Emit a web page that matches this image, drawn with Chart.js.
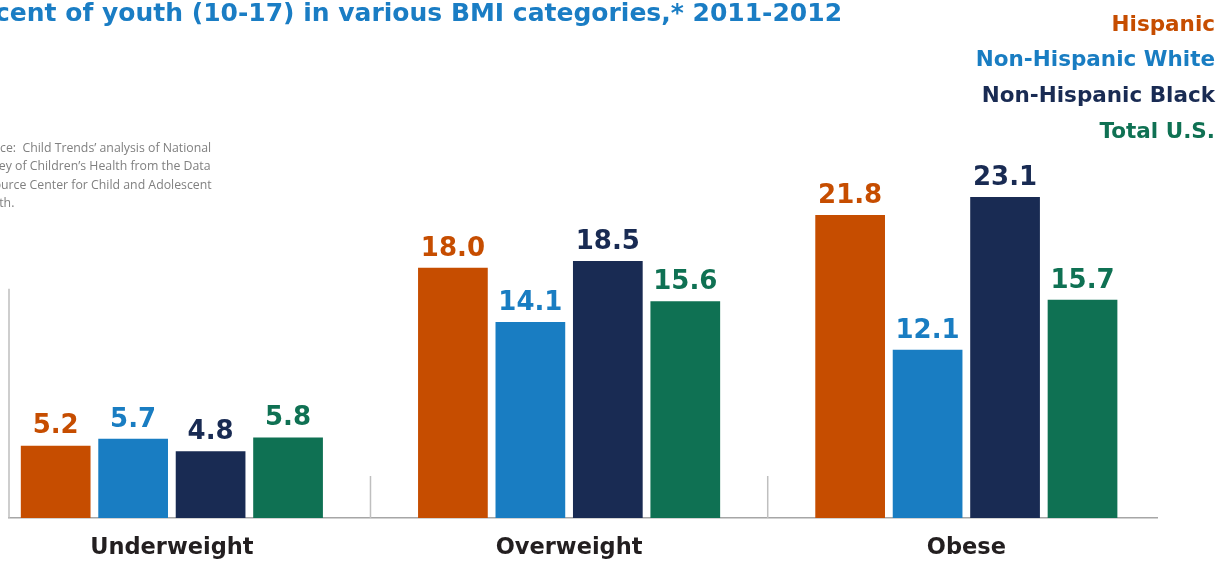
<!DOCTYPE html>
<html>
<head>
<meta charset="utf-8">
<script src="https://cdn.jsdelivr.net/npm/chart.js@4.4.0/dist/chart.umd.min.js"></script>
<style>
  html, body { margin: 0; padding: 0; background: #fff; }
</style>
</head>
<body>
<canvas id="bmi" width="1224" height="563"></canvas>
<script>
const categories = ['Underweight', 'Overweight', 'Obese'];
const seriesNames = ['Hispanic', 'Non-Hispanic White', 'Non-Hispanic Black', 'Total U.S.'];
const hispanic = [5.2, 18.0, 21.8];
const nonHispanicWhite = [5.7, 14.1, 12.1];
const nonHispanicBlack = [4.8, 18.5, 23.1];
const totalUS = [5.8, 15.6, 15.7];
const seriesColors = ['#c64d00', '#197dc2', '#192b53', '#0f7153'];

const titleText = 'Percent of youth (10-17) in various BMI categories,* 2011-2012';
const sourceLines = [
  'Source:  Child Trends\u2019 analysis of National',
  'Survey of Children\u2019s Health from the Data',
  'Resource Center for Child and Adolescent',
  'Health.'
];

const FONT = '"DejaVu Sans", sans-serif';
const series = [hispanic, nonHispanicWhite, nonHispanicBlack, totalUS];

// title, source note, legend, value labels and the axis decorations
const decorations = {
  id: 'decorations',
  afterDatasetsDraw(chart) {
    const ctx = chart.ctx;
    const x = chart.scales.x;
    const y = chart.scales.y;
    ctx.save();

    // title runs off the left edge
    ctx.font = 'bold 25px ' + FONT;
    ctx.fillStyle = '#1a7dc4';
    ctx.textAlign = 'left';
    ctx.textBaseline = 'middle';
    ctx.fillText(titleText, -ctx.measureText('Per').width - 5, 14);

    // source note, also clipped on the left
    ctx.font = '12.3px "Open Sans", sans-serif';
    ctx.fillStyle = '#808080';
    const indent = -ctx.measureText('Sour').width;
    sourceLines.forEach((line, i) => ctx.fillText(line, indent, 148 + i * 18.6));

    // legend as right-aligned coloured text
    ctx.font = 'bold 21.5px ' + FONT;
    ctx.textAlign = 'right';
    chart.data.datasets.forEach((ds, i) => {
      ctx.fillStyle = ds.backgroundColor;
      ctx.fillText(ds.label, 1215, 25 + i * 35.7);
    });

    // value labels above bars
    ctx.font = 'bold 26px ' + FONT;
    ctx.textAlign = 'center';
    ctx.textBaseline = 'bottom';
    chart.data.datasets.forEach((ds, i) => {
      chart.getDatasetMeta(i).data.forEach((bar, j) => {
        ctx.fillStyle = ds.backgroundColor;
        ctx.fillText(ds.data[j].y.toFixed(1), bar.x, bar.y - 6);
      });
    });

    // short y axis line and category separators
    ctx.strokeStyle = '#bfbfbf';
    ctx.lineWidth = 1.5;
    const base = y.getPixelForValue(0);
    ctx.beginPath();
    ctx.moveTo(chart.chartArea.left, base);
    ctx.lineTo(chart.chartArea.left, y.getPixelForValue(16.5));
    for (let i = 0; i < categories.length - 1; i++) {
      const px = x.getPixelForValue(i + 0.5);
      ctx.moveTo(px, base);
      ctx.lineTo(px, base - 42);
    }
    ctx.stroke();
    ctx.restore();
  }
};

new Chart(document.getElementById('bmi'), {
  type: 'bar',
  data: {
    datasets: seriesNames.map((name, i) => ({
      label: name,
      data: series[i].map((v, j) => ({ x: j, y: v })),
      backgroundColor: seriesColors[i],
      categoryPercentage: 0.78,
      barPercentage: 0.9
    }))
  },
  options: {
    responsive: false,
    animation: false,
    layout: { padding: { top: 190, left: 9, right: 67, bottom: 0 } },
    plugins: {
      legend: { display: false },
      title: { display: false },
      tooltip: { enabled: false }
    },
    scales: {
      x: {
        type: 'linear',
        min: -0.41,
        max: 2.48,
        offset: false,
        afterBuildTicks: scale => { scale.ticks = categories.map((_, i) => ({ value: i })); },
        afterFit: scale => { scale.height = 45; },
        grid: { display: false, drawTicks: false, offset: false },
        border: { display: true, color: '#a6a6a6', width: 1.5 },
        ticks: {
          autoSkip: false,
          maxRotation: 0,
          padding: 17,
          color: '#231f20',
          font: { family: FONT, size: 22.5, weight: 'bold' },
          callback: value => categories[value]
        }
      },
      y: {
        min: 0,
        max: 23.6,
        display: false
      }
    }
  },
  plugins: [decorations]
});
</script>
</body>
</html>
